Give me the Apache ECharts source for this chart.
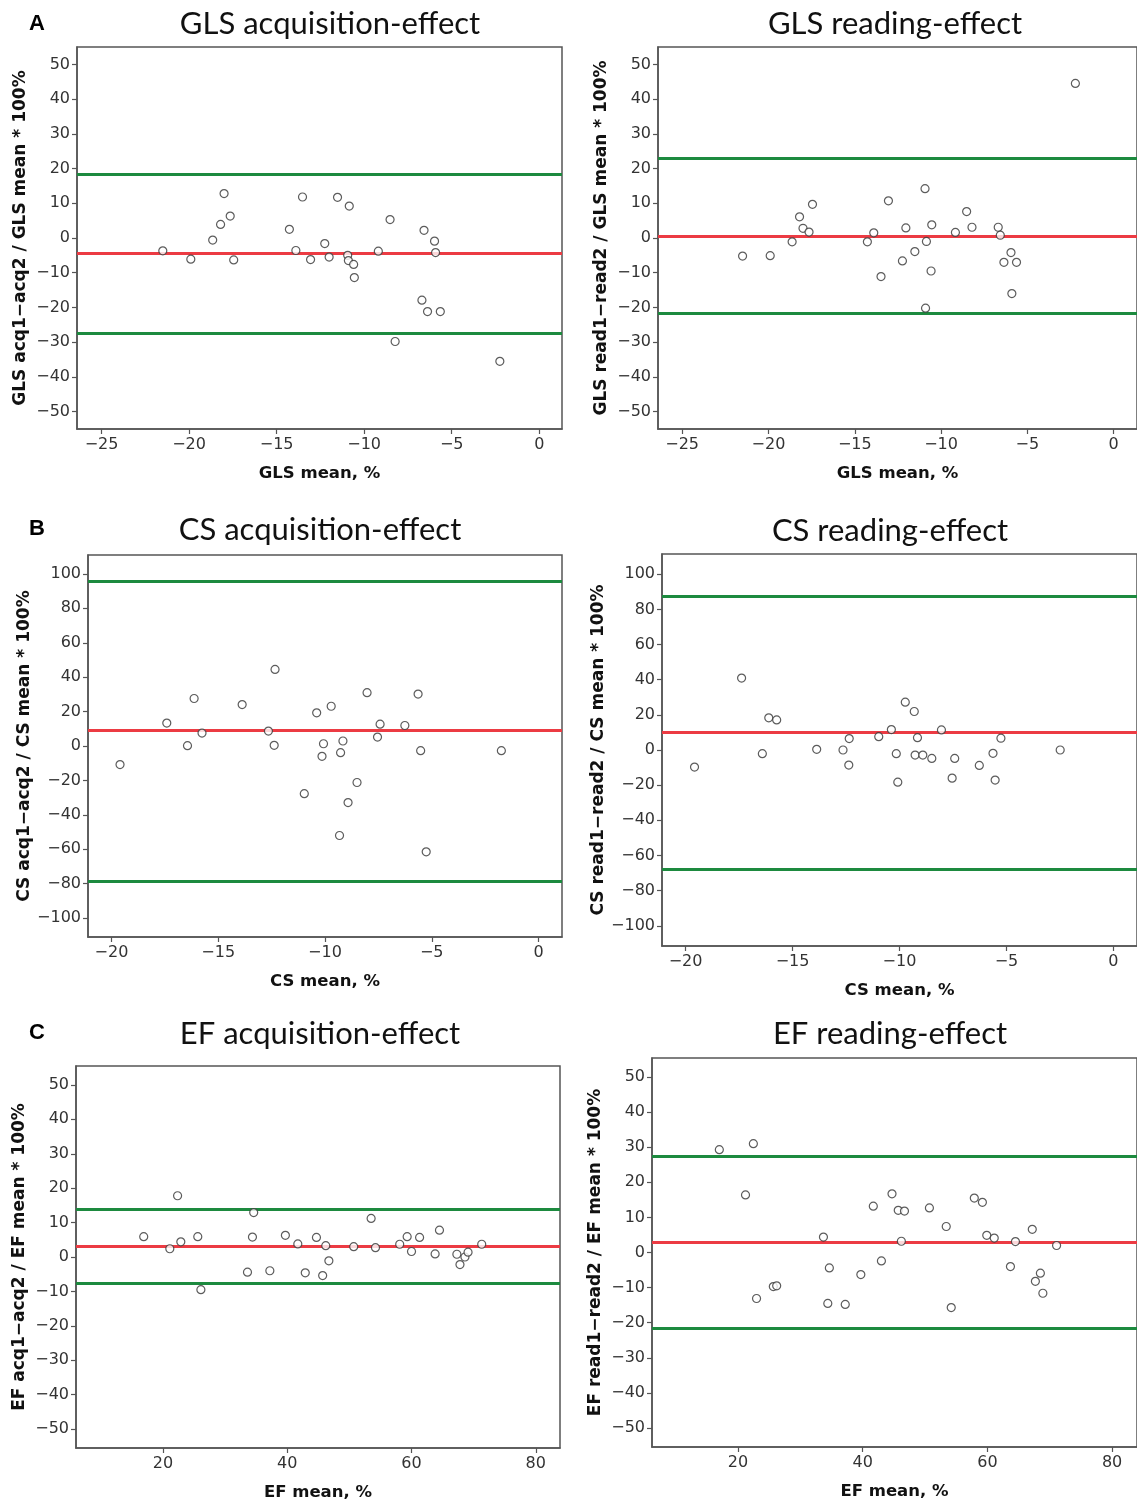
<!DOCTYPE html>
<html>
<head>
<meta charset="utf-8">
<script src="https://cdn.jsdelivr.net/npm/echarts@6/dist/echarts.min.js"></script>
<style>
html,body{margin:0;padding:0;background:#fff;}
#chart{width:1137px;height:1506px;}
</style>
</head>
<body>
<div id="chart"></div>
<script>
// ---------- DATA ----------
const panelTitles = ["GLS acquisition-effect","GLS reading-effect","CS acquisition-effect","CS reading-effect","EF acquisition-effect","EF reading-effect"];
const yAxisTitles = ["GLS acq1−acq2 / GLS mean * 100%","GLS read1−read2 / GLS mean * 100%","CS acq1−acq2 / CS mean * 100%","CS read1−read2 / CS mean * 100%","EF acq1−acq2 / EF mean * 100%","EF read1−read2 / EF mean * 100%"];
const xAxisTitles = ["GLS mean, %","GLS mean, %","CS mean, %","CS mean, %","EF mean, %","EF mean, %"];
const panelLetters = ["A","B","C"];

const glsXTicks = [-25,-20,-15,-10,-5,0];
const csXTicks = [-20,-15,-10,-5,0];
const efXTicks = [20,40,60,80];
const pct50Ticks = [-50,-40,-30,-20,-10,0,10,20,30,40,50];
const pct100Ticks = [-100,-80,-60,-40,-20,0,20,40,60,80,100];

const glsAcqX = [-21.5,-19.9,-18.65,-18.2,-18.0,-17.65,-17.45,-14.27,-13.9,-13.52,-13.06,-12.25,-12.0,-11.52,-10.94,-10.9,-10.85,-10.6,-10.56,-9.19,-8.52,-8.23,-6.7,-6.58,-6.38,-5.98,-5.92,-5.65,-2.25];
const glsAcqY = [-3.7,-6.1,-0.6,3.9,12.8,6.3,-6.3,2.5,-3.6,11.8,-6.2,-1.6,-5.5,11.7,-5.0,-6.5,9.2,-7.6,-11.4,-3.8,5.3,-29.8,-17.9,2.2,-21.2,-0.9,-4.2,-21.2,-35.5];
const glsAcqLines = [-4.5, 18.4, -27.5]; // bias, upper LoA, lower LoA

const glsReadX = [-21.5,-19.9,-18.63,-18.2,-18.0,-17.65,-17.45,-14.27,-13.9,-13.48,-13.05,-12.24,-12.04,-11.52,-10.93,-10.85,-10.9,-10.58,-10.54,-9.17,-8.52,-8.21,-6.69,-6.57,-6.36,-5.95,-5.9,-5.63,-2.22];
const glsReadY = [-5.2,-5.1,-1.1,6.1,2.8,1.7,9.7,-1.1,1.5,-11.1,10.7,-6.6,2.9,-3.9,14.2,-1.0,-20.2,-9.5,3.8,1.6,7.6,3.1,3.1,0.8,-7.0,-4.2,-16.0,-7.0,44.5];
const glsReadLines = [0.5, 23.0, -21.8];

const csAcqX = [-19.6,-17.41,-16.44,-16.13,-15.76,-13.88,-12.65,-12.38,-12.34,-10.97,-10.39,-10.14,-10.07,-9.71,-9.32,-9.27,-9.16,-8.92,-8.5,-8.03,-7.54,-7.42,-6.26,-5.64,-5.52,-5.26,-1.74];
const csAcqY = [-10.8,13.3,0.2,27.6,7.5,24.1,8.7,0.4,44.5,-27.7,19.3,-6.0,1.3,23.1,-52.0,-3.9,2.9,-32.9,-21.2,31.0,5.2,12.7,11.9,30.2,-2.7,-61.5,-2.7];
const csAcqLines = [8.9, 96.0, -78.4];

const csReadX = [-19.58,-17.38,-16.41,-16.11,-15.74,-13.87,-12.64,-12.35,-12.37,-10.97,-10.38,-10.15,-10.08,-9.73,-9.31,-9.27,-9.16,-8.91,-8.49,-8.04,-7.54,-7.42,-6.27,-5.63,-5.53,-5.26,-2.49];
const csReadY = [-9.7,40.9,-2.1,18.3,17.1,0.4,0.0,6.5,-8.6,7.6,11.6,-2.1,-18.3,27.2,21.9,-2.9,7.0,-2.9,-4.8,11.4,-16.0,-4.8,-8.8,-1.9,-17.1,6.7,0.0];
const csReadLines = [10.1, 87.7, -67.9];

const efAcqX = [16.9,21.1,22.35,22.87,25.6,26.1,33.6,34.4,34.6,37.2,39.7,41.7,42.9,44.7,45.7,46.2,46.7,50.7,53.5,54.2,58.1,59.3,60.0,61.3,63.8,64.5,67.3,67.8,68.6,69.1,71.3];
const efAcqY = [5.9,2.4,17.8,4.4,5.9,-9.5,-4.4,5.8,12.9,-4.0,6.3,3.8,-4.6,5.7,-5.4,3.3,-1.1,3.0,11.2,2.7,3.7,5.9,1.6,5.7,0.9,7.8,0.8,-2.2,0.0,1.4,3.7];
const efAcqLines = [3.1, 13.9, -7.7];

const efReadX = [17.0,21.2,22.46,22.97,25.66,26.2,33.7,34.4,34.65,37.2,39.7,41.7,43.0,44.7,45.7,46.2,46.7,50.7,53.4,54.2,57.9,59.2,59.9,61.1,63.7,64.5,67.2,67.7,68.5,68.9,71.1];
const efReadY = [29.3,16.4,31.0,-13.1,-9.7,-9.5,4.4,-14.5,-4.4,-14.8,-6.3,13.2,-2.4,16.7,12.0,3.2,11.8,12.7,7.4,-15.7,15.5,14.3,4.9,4.1,-4.0,3.1,6.6,-8.2,-5.9,-11.6,2.0];
const efReadLines = [2.8, 27.4, -21.7];

// ---------- LAYOUT ----------
const panels = [
  {x: glsAcqX, y: glsAcqY, lines: glsAcqLines, xt: glsXTicks, yt: pct50Ticks, grid:{left:77, top:47, width:485, height:382}, xr:[-26.4,1.3], yr:[-55,55]},
  {x: glsReadX, y: glsReadY, lines: glsReadLines, xt: glsXTicks, yt: pct50Ticks, grid:{left:658, top:47, width:483, height:382}, xr:[-26.4,1.35], yr:[-55,55]},
  {x: csAcqX, y: csAcqY, lines: csAcqLines, xt: csXTicks, yt: pct100Ticks, grid:{left:88, top:555, width:474, height:382}, xr:[-21.1,1.1], yr:[-111,111]},
  {x: csReadX, y: csReadY, lines: csReadLines, xt: csXTicks, yt: pct100Ticks, grid:{left:662, top:554, width:480, height:392}, xr:[-21.1,1.1], yr:[-111.5,111.5]},
  {x: efAcqX, y: efAcqY, lines: efAcqLines, xt: efXTicks, yt: pct50Ticks, grid:{left:76, top:1066, width:484, height:382}, xr:[6.0,83.9], yr:[-55.5,55.5]},
  {x: efReadX, y: efReadY, lines: efReadLines, xt: efXTicks, yt: pct50Ticks, grid:{left:652, top:1058, width:490, height:389}, xr:[6.2,84], yr:[-55.4,55.4]}
];

const fmt = v => String(v).replace('-', '\u2212');
const axisCol = '#555';
const labelFont = {color:'#333', fontSize:16, fontFamily:'"DejaVu Sans", sans-serif'};
const xNameFont = {color:'#111', fontSize:16.5, fontWeight:'bold', fontFamily:'"DejaVu Sans", sans-serif'};
const yNameFont = {color:'#111', fontSize:17, fontWeight:'bold', fontFamily:'"DejaVu Sans", sans-serif'};

const grids = [], xAxes = [], yAxes = [], series = [];
panels.forEach((p, i) => {
  grids.push(Object.assign({show:true, borderColor:axisCol, borderWidth:1.5, backgroundColor:'#fff', containLabel:false}, p.grid));
  xAxes.push({
    type:'value', gridIndex:i, min:p.xr[0], max:p.xr[1],
    name: xAxisTitles[i], nameLocation:'middle', nameGap:36, nameTextStyle:xNameFont,
    splitLine:{show:false},
    axisLine:{show:true, onZero:false, lineStyle:{color:axisCol, width:1.5}},
    axisTick:{show:true, length:5, customValues:p.xt, lineStyle:{color:axisCol, width:1.2}},
    axisLabel:Object.assign({customValues:p.xt, margin:8, formatter:fmt}, labelFont)
  });
  yAxes.push({
    type:'value', gridIndex:i, min:p.yr[0], max:p.yr[1],
    name: yAxisTitles[i], nameLocation:'middle', nameGap:48, nameRotate:90, nameTextStyle:yNameFont,
    splitLine:{show:false},
    axisLine:{show:true, onZero:false, lineStyle:{color:axisCol, width:1.5}},
    axisTick:{show:true, length:5, customValues:p.yt, lineStyle:{color:axisCol, width:1.2}},
    axisLabel:Object.assign({customValues:p.yt, margin:7, formatter:fmt}, labelFont)
  });
  series.push({
    type:'scatter', xAxisIndex:i, yAxisIndex:i, z:5,
    data: p.x.map((v, k) => [v, p.y[k]]),
    symbol:'circle', symbolSize:8,
    itemStyle:{color:'#fff', borderColor:'#333', borderWidth:1.2},
    markLine:{
      silent:true, symbol:['none','none'], label:{show:false}, animation:false,
      data:[
        {yAxis:p.lines[1], lineStyle:{color:'#1d8a3f', width:3, type:'solid'}},
        {yAxis:p.lines[2], lineStyle:{color:'#1d8a3f', width:3, type:'solid'}},
        {yAxis:p.lines[0], lineStyle:{color:'#ec3b43', width:3, type:'solid'}}
      ]
    }
  });
});

const titlePos = [[330,24],[895,24],[320,530],[890,531],[320,1034],[890,1034]];
const letterPos = [[37,24],[37,529],[37,1033]];
const graphics = [];
panelTitles.forEach((t, i) => {
  graphics.push({type:'text', x:titlePos[i][0], y:titlePos[i][1], z:10,
    style:{text:t, fill:'#111', font:'31px Lato, "Open Sans", sans-serif', textAlign:'center', textVerticalAlign:'middle'}});
});
panelLetters.forEach((t, i) => {
  graphics.push({type:'text', x:letterPos[i][0], y:letterPos[i][1], z:10,
    style:{text:t, fill:'#000', font:'bold 22px "Liberation Sans", Arial, sans-serif', textAlign:'center', textVerticalAlign:'middle'}});
});

const chart = echarts.init(document.getElementById('chart'), null, {renderer:'canvas'});
chart.setOption({
  animation:false,
  backgroundColor:'#fff',
  grid:grids, xAxis:xAxes, yAxis:yAxes, series:series,
  graphic:graphics
});
</script>
</body>
</html>
